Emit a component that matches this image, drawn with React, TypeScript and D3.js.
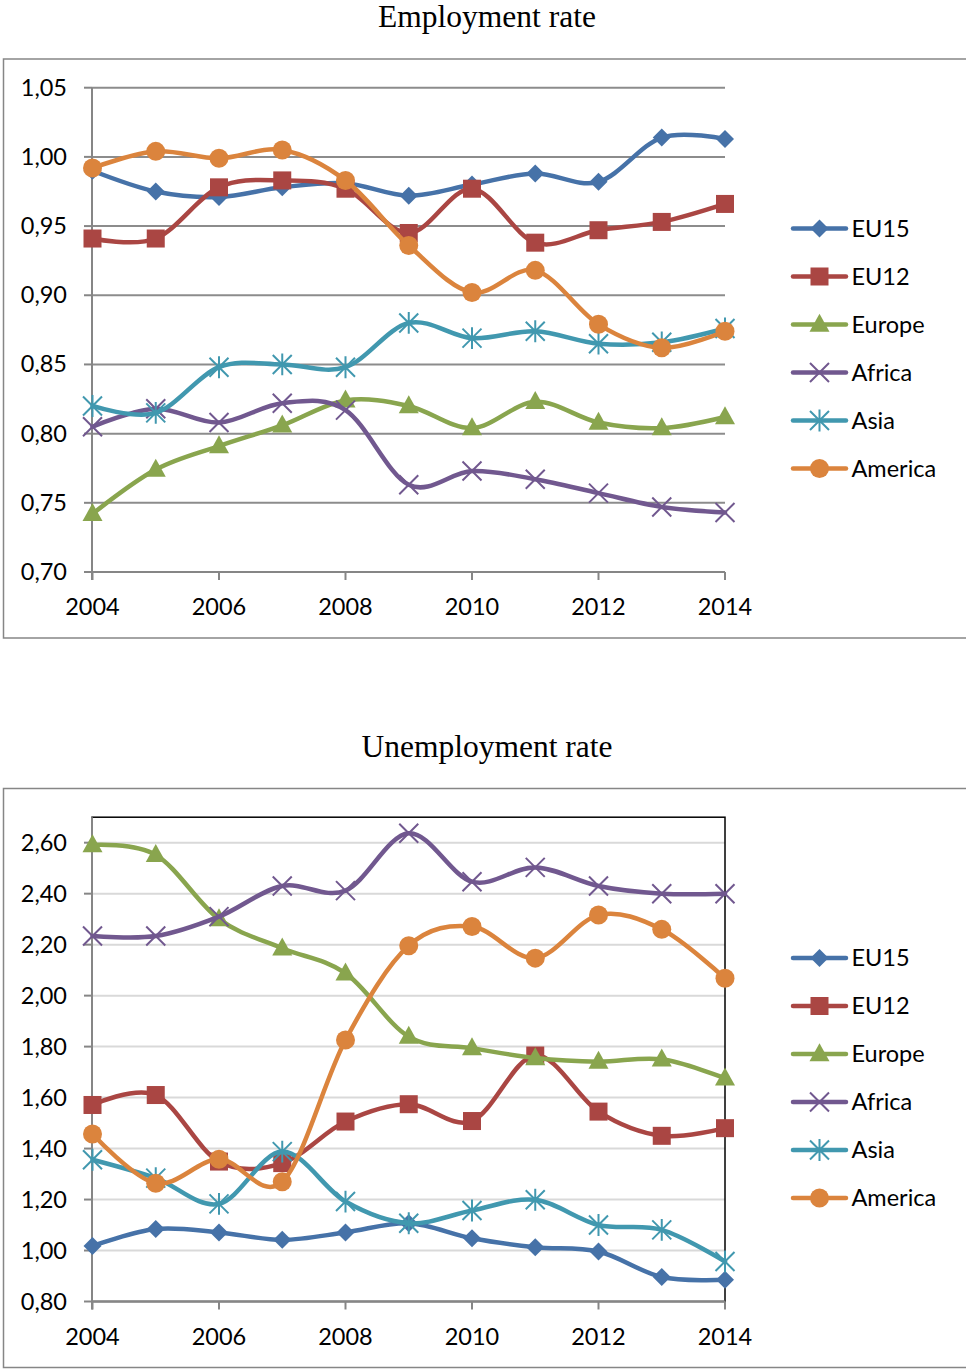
import React from "react";
import * as d3 from "d3";

const years = [2004, 2005, 2006, 2007, 2008, 2009, 2010, 2011, 2012, 2013, 2014];
const xTickYears = [2004, 2006, 2008, 2010, 2012, 2014];
const seriesNames = ["EU15", "EU12", "Europe", "Africa", "Asia", "America"];
const seriesColors = ["#4672a8", "#aa4643", "#89a54e", "#71588f", "#4198af", "#db843d"];
const seriesMarkers = ["diamond", "square", "triangle", "x", "star", "circle"];

// Employment rate
const empEU15 = [0.990, 0.975, 0.971, 0.978, 0.981, 0.972, 0.980, 0.988, 0.982, 1.014, 1.013];
const empEU12 = [0.941, 0.941, 0.978, 0.983, 0.977, 0.945, 0.977, 0.938, 0.947, 0.953, 0.966];
const empEurope = [0.742, 0.774, 0.791, 0.806, 0.824, 0.820, 0.804, 0.823, 0.808, 0.804, 0.812];
const empAfrica = [0.805, 0.818, 0.808, 0.822, 0.817, 0.763, 0.773, 0.767, 0.757, 0.747, 0.743];
const empAsia = [0.820, 0.815, 0.848, 0.850, 0.848, 0.880, 0.869, 0.874, 0.865, 0.866, 0.876];
const empAmerica = [0.992, 1.004, 0.999, 1.005, 0.983, 0.936, 0.902, 0.918, 0.879, 0.862, 0.874];
const empTicks = [0.70, 0.75, 0.80, 0.85, 0.90, 0.95, 1.00, 1.05];

// Unemployment rate
const unEU15 = [1.018, 1.084, 1.071, 1.042, 1.071, 1.107, 1.048, 1.013, 0.996, 0.896, 0.885];
const unEU12 = [1.571, 1.610, 1.349, 1.343, 1.506, 1.574, 1.508, 1.765, 1.545, 1.450, 1.480];
const unEurope = [2.591, 2.552, 2.300, 2.186, 2.088, 1.839, 1.794, 1.755, 1.741, 1.750, 1.676];
const unAfrica = [2.234, 2.234, 2.310, 2.430, 2.412, 2.637, 2.447, 2.503, 2.430, 2.400, 2.400];
const unAsia = [1.356, 1.284, 1.183, 1.388, 1.192, 1.107, 1.157, 1.199, 1.100, 1.081, 0.957];
const unAmerica = [1.457, 1.264, 1.358, 1.270, 1.826, 2.196, 2.271, 2.147, 2.316, 2.260, 2.068];
const unTicks = [0.80, 1.00, 1.20, 1.40, 1.60, 1.80, 2.00, 2.20, 2.40, 2.60];

const FONT = "Lato, 'Open Sans', sans-serif";
const FS = 23.5;

function Marker({ type, x, y, color }: { type: string; x: number; y: number; color: string }) {
  switch (type) {
    case "diamond": {
      const r = 9;
      return <path d={`M${x},${y - r}L${x + r},${y}L${x},${y + r}L${x - r},${y}Z`} fill={color} />;
    }
    case "square": {
      const s = 18;
      return <rect x={x - s / 2} y={y - s / 2} width={s} height={s} fill={color} />;
    }
    case "triangle": {
      const w = 20, h = 18;
      return <path d={`M${x},${y - h * 0.6}L${x + w / 2},${y + h * 0.4}L${x - w / 2},${y + h * 0.4}Z`} fill={color} />;
    }
    case "x": {
      const r = 9.5;
      return (
        <path d={`M${x - r},${y - r}L${x + r},${y + r}M${x - r},${y + r}L${x + r},${y - r}`} stroke={color} strokeWidth={2} fill="none" />
      );
    }
    case "star": {
      const r = 9.5;
      return (
        <path
          d={`M${x - r},${y - r}L${x + r},${y + r}M${x - r},${y + r}L${x + r},${y - r}M${x},${y - r * 1.15}L${x},${y + r * 1.15}`}
          stroke={color}
          strokeWidth={2}
          fill="none"
        />
      );
    }
    default:
      return <circle cx={x} cy={y} r={9.5} fill={color} />;
  }
}

type ChartProps = {
  dy: number;
  title: string;
  data: number[][];
  ticks: number[];
  domain: [number, number];
  gridColor: string;
  border: boolean;
};

function Chart({ dy, title, data, ticks, domain, gridColor, border }: ChartProps) {
  const x = d3.scaleLinear().domain([2004, 2014]).range([92.5, 725]);
  const y = d3.scaleLinear().domain(domain).range([572 + dy, 87.7 + dy]);
  const fmt = (v: number) => d3.format(".2f")(v).replace(".", ",");
  const line = d3
    .line<number>()
    .x((_, i) => x(years[i]))
    .y((v) => y(v))
    .curve(d3.curveCardinal.tension(0));
  const axisY = y(domain[0]);
  const topY = y(domain[1]);
  return (
    <g>
      <text x={487} y={27 + dy} textAnchor="middle" fontFamily="'Liberation Serif', 'Times New Roman', serif" fontSize={31.5} fill="#000">
        {title}
      </text>
      <rect x={3.5} y={59 + dy} width={975} height={579} fill="#fff" stroke="#868686" strokeWidth={1.5} />
      {ticks.map((t) => (
        <line key={"g" + t} x1={92} x2={725} y1={y(t)} y2={y(t)} stroke={gridColor} strokeWidth={2} />
      ))}
      {border && <rect x={92} y={topY} width={725 - 92} height={axisY - topY} fill="none" stroke="#000" strokeWidth={1.5} />}
      <line x1={92} x2={92} y1={border ? topY : y(ticks[ticks.length - 1])} y2={axisY + 8} stroke="#868686" strokeWidth={2} />
      <line x1={92} x2={725} y1={axisY} y2={axisY} stroke="#868686" strokeWidth={2} />
      {ticks.map((t) => (
        <g key={"t" + t}>
          <line x1={84} x2={92} y1={y(t)} y2={y(t)} stroke="#868686" strokeWidth={2} />
          <text x={67} y={y(t) + 8} textAnchor="end" fontFamily={FONT} fontSize={FS} fill="#000">
            {fmt(t)}
          </text>
        </g>
      ))}
      {xTickYears.map((yr) => (
        <g key={"x" + yr}>
          <line x1={x(yr)} x2={x(yr)} y1={axisY} y2={axisY + 8} stroke="#868686" strokeWidth={2} />
          <text x={x(yr)} y={axisY + 43} textAnchor="middle" fontFamily={FONT} fontSize={FS} fill="#000">
            {yr}
          </text>
        </g>
      ))}
      {data.map((vals, si) => (
        <g key={"s" + si}>
          <path d={line(vals) || ""} fill="none" stroke={seriesColors[si]} strokeWidth={4.5} strokeLinecap="round" />
          {vals.map((v, i) => (
            <Marker key={i} type={seriesMarkers[si]} x={x(years[i])} y={y(v)} color={seriesColors[si]} />
          ))}
        </g>
      ))}
      {seriesNames.map((name, si) => {
        const ly = 228.5 + dy + si * 48;
        return (
          <g key={"l" + si}>
            <line x1={793} x2={846} y1={ly} y2={ly} stroke={seriesColors[si]} strokeWidth={4.5} strokeLinecap="round" />
            <Marker type={seriesMarkers[si]} x={819.5} y={ly} color={seriesColors[si]} />
            <text x={851.5} y={ly + 8} fontFamily={FONT} fontSize={FS} fill="#000">
              {name}
            </text>
          </g>
        );
      })}
    </g>
  );
}

export default function App() {
  return (
    <svg width={966} height={1369} style={{ position: "absolute", left: 0, top: 0, background: "#fff" }}>
      <rect x={0} y={0} width={966} height={1369} fill="#fff" />
      <Chart
        dy={0}
        title="Employment rate"
        data={[empEU15, empEU12, empEurope, empAfrica, empAsia, empAmerica]}
        ticks={empTicks}
        domain={[0.7, 1.05]}
        gridColor="#8c8c8c"
        border={false}
      />
      <Chart
        dy={729.5}
        title="Unemployment rate"
        data={[unEU15, unEU12, unEurope, unAfrica, unAsia, unAmerica]}
        ticks={unTicks}
        domain={[0.8, 2.7]}
        gridColor="#d9d9d9"
        border={true}
      />
    </svg>
  );
}
